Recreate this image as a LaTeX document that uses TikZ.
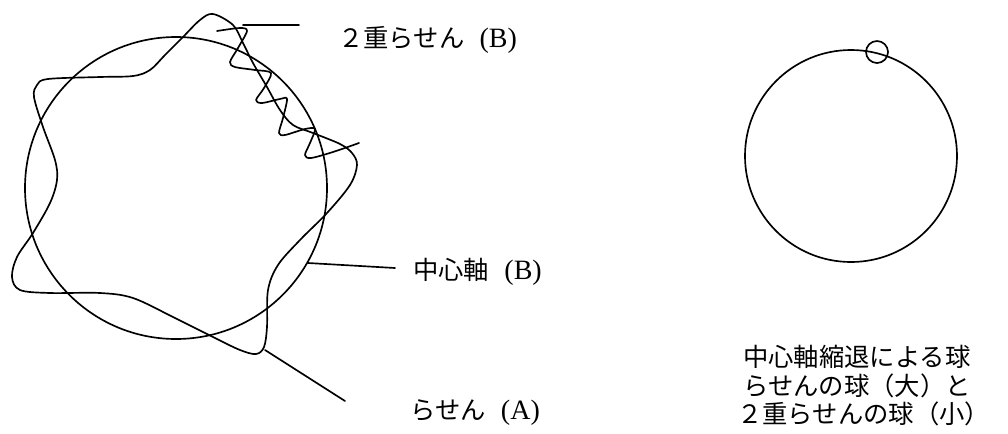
\documentclass[tikz,border=0pt]{standalone}
\usepackage{fontspec}
\setmainfont{Liberation Serif}
\newfontfamily\jp{Noto Sans CJK JP}
\newcommand{\lat}[1]{{\fontsize{21}{24}\selectfont #1}}
\begin{document}
\begin{tikzpicture}[x=0.75pt,y=-0.75pt,
  curve/.style={line width=1.25pt, line join=round, line cap=round},
  lbl/.style={anchor=west, inner sep=0pt, font=\fontsize{19}{23}\selectfont}]
\useasboundingbox (0,0) rectangle (1008,433);
% central axis circle (B)
\draw[curve] (176,188) circle[radius=151];
% helix (A)
\draw[curve] plot[smooth cycle, tension=0.55] coordinates {
 (213,14) (233,25) (243,43) (253,63) (267,87) (280,110) (293,125) (313,133)
 (340,144) (352,153) (357,165) (350,185) (327,213) (300,240) (278,265)
 (268,290) (267,327) (264,347) (256,354) (240,350) (213,337) (173,317)
 (133,298) (100,293) (50,293) (20,290) (12,277) (17,257) (33,233)
 (50,203) (57,180) (55,160) (43,127) (34,97) (37,85) (48,79) (100,77)
 (133,76) (150,70) (165,55) (183,37) (200,20)};
% double helix (B)
\draw[curve] plot[smooth, tension=0.5] coordinates {
 (217,31) (240,28) (247,31) (238,48) (230,62) (235,67) (255,70) (271,73)
 (264,88) (256,100) (262,103) (280,99) (287,99) (283,118) (279,133)
 (285,135) (305,129) (315,129) (310,143) (305,155) (311,158) (333,152) (359,143)};
% right spheres
\draw[curve] (851,156) circle[radius=106];
\draw[curve] (877,52) circle[radius=11];
% leader lines
\coordinate (dA) at (243,25);  \coordinate (dB) at (299,25);
\coordinate (cA) at (308,263); \coordinate (cB) at (395,268);
\coordinate (hA) at (265,350); \coordinate (hB) at (345,401);
\draw[curve] (dA) -- (dB);
\draw[curve] (cA) -- (cB);
\draw[curve] (hA) -- (hB);
% labels
\node[lbl] (tdouble) at (338,40) {{\jp ２重らせん}\hspace{0.6em}\lat{(B)}};
\node[lbl] (taxis) at (413,272) {{\jp 中心軸}\hspace{0.6em}\lat{(B)}};
\node[lbl] (thelix) at (410,413) {{\jp らせん}\hspace{0.6em}\lat{(A)}};
\node[lbl] (r1) at (743,357) {\jp 中心軸縮退による球};
\node[lbl] (r2) at (743,386) {\jp らせんの球（大）と};
\node[lbl] (r3) at (737,414) {\jp ２重らせんの球（小）};
\end{tikzpicture}
\end{document}
